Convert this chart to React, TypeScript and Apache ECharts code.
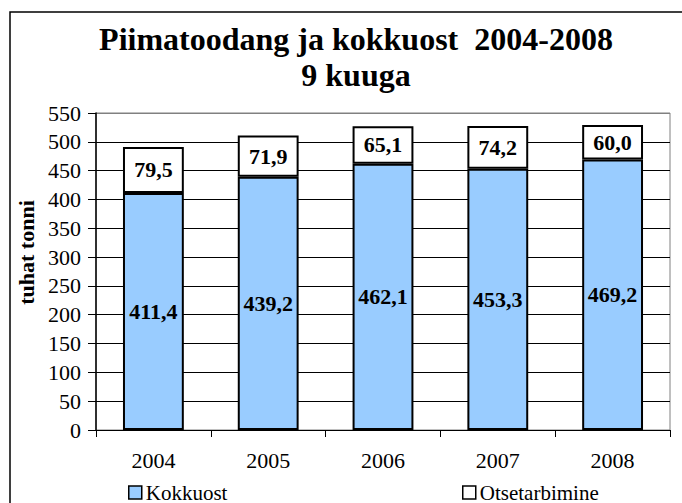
import React, { useEffect, useRef } from "react";
import * as echarts from "echarts";

const categories = ["2004", "2005", "2006", "2007", "2008"];
const kokkuost = [411.4, 439.2, 462.1, 453.3, 469.2];
const otsetarbimine = [79.5, 71.9, 65.1, 74.2, 60.0];
const yTicks = { min: 0, max: 550, interval: 50 };

const serif = "'Liberation Serif', 'DejaVu Serif', serif";
const fmt = (v: number) => v.toFixed(1).replace(".", ",");

export default function App() {
  const ref = useRef<HTMLDivElement>(null);
  useEffect(() => {
    if (!ref.current) return;
    const chart = echarts.init(ref.current, undefined, { renderer: "svg" });
    const splitColors: string[] = [];
    for (let v = yTicks.min; v <= yTicks.max; v += yTicks.interval) {
      splitColors.push(v === yTicks.max ? "#808080" : "#000000");
    }
    const labelStyle = {
      show: true,
      position: "inside" as const,
      color: "#000",
      fontFamily: serif,
      fontWeight: "bold" as const,
      fontSize: 22,
      formatter: (p: any) => fmt(p.value),
    };
    const legendText = { fontFamily: serif, fontSize: 21, color: "#000", padding: [0, 0, 0, -1] };
    chart.setOption({
      animation: false,
      backgroundColor: "#fff",
      title: {
        text: "Piimatoodang ja kokkuost  2004-2008\n9 kuuga",
        left: 351,
        top: 16,
        textAlign: "center",
        textStyle: {
          fontFamily: serif,
          fontWeight: "bold",
          fontSize: 32,
          lineHeight: 36,
          color: "#000",
        },
      },
      graphic: [
        {
          type: "rect",
          shape: { x: 10, y: 12, width: 700, height: 600 },
          style: { fill: "none", stroke: "#000", lineWidth: 1.5 },
          silent: true,
        },
      ],
      legend: [
        {
          data: ["Kokkuost"],
          left: 128,
          top: 482,
          padding: 0,
          itemWidth: 13,
          itemHeight: 13,
          itemGap: 6,
          icon: "rect",
          itemStyle: { borderColor: "#000", borderWidth: 1.5 },
          textStyle: legendText,
        },
        {
          data: ["Otsetarbimine"],
          left: 462,
          top: 482,
          padding: 0,
          itemWidth: 13,
          itemHeight: 13,
          icon: "rect",
          itemStyle: { borderColor: "#000", borderWidth: 1.5 },
          textStyle: legendText,
        },
      ],
      grid: {
        left: 96,
        right: 12,
        top: 113,
        bottom: 73,
        show: true,
        borderColor: "#808080",
        borderWidth: 1,
        containLabel: false,
      },
      xAxis: {
        type: "category",
        data: categories,
        boundaryGap: true,
        axisLine: { show: true, lineStyle: { color: "#000", width: 1 } },
        axisTick: { show: true, length: 7, lineStyle: { color: "#000" } },
        axisLabel: { fontFamily: serif, fontSize: 22, color: "#000", margin: 19 },
      },
      yAxis: {
        type: "value",
        min: yTicks.min,
        max: yTicks.max,
        interval: yTicks.interval,
        name: "tuhat tonni",
        nameLocation: "middle",
        nameGap: 57,
        nameRotate: 90,
        nameTextStyle: {
          fontFamily: serif,
          fontWeight: "bold",
          fontSize: 22,
          color: "#000",
          padding: [0, 0, 0, 38],
        },
        axisLine: { show: true, lineStyle: { color: "#000", width: 1.5 } },
        axisTick: { show: true, length: 8, lineStyle: { color: "#000" } },
        axisLabel: { fontFamily: serif, fontSize: 22, color: "#000", margin: 15 },
        splitLine: { show: true, lineStyle: { color: splitColors, width: 1 } },
      },
      series: [
        {
          name: "Kokkuost",
          type: "bar",
          stack: "total",
          data: kokkuost,
          barWidth: "53%",
          itemStyle: { color: "#99CCFF", borderColor: "#000", borderWidth: 2 },
          label: labelStyle,
        },
        {
          name: "Otsetarbimine",
          type: "bar",
          stack: "total",
          data: otsetarbimine,
          barWidth: "53%",
          itemStyle: { color: "#FFFFFF", borderColor: "#000", borderWidth: 2 },
          label: labelStyle,
        },
      ],
    });
    return () => chart.dispose();
  }, []);
  return (
    <div
      ref={ref}
      style={{ position: "fixed", left: 0, top: 0, width: 682, height: 503 }}
    />
  );
}
